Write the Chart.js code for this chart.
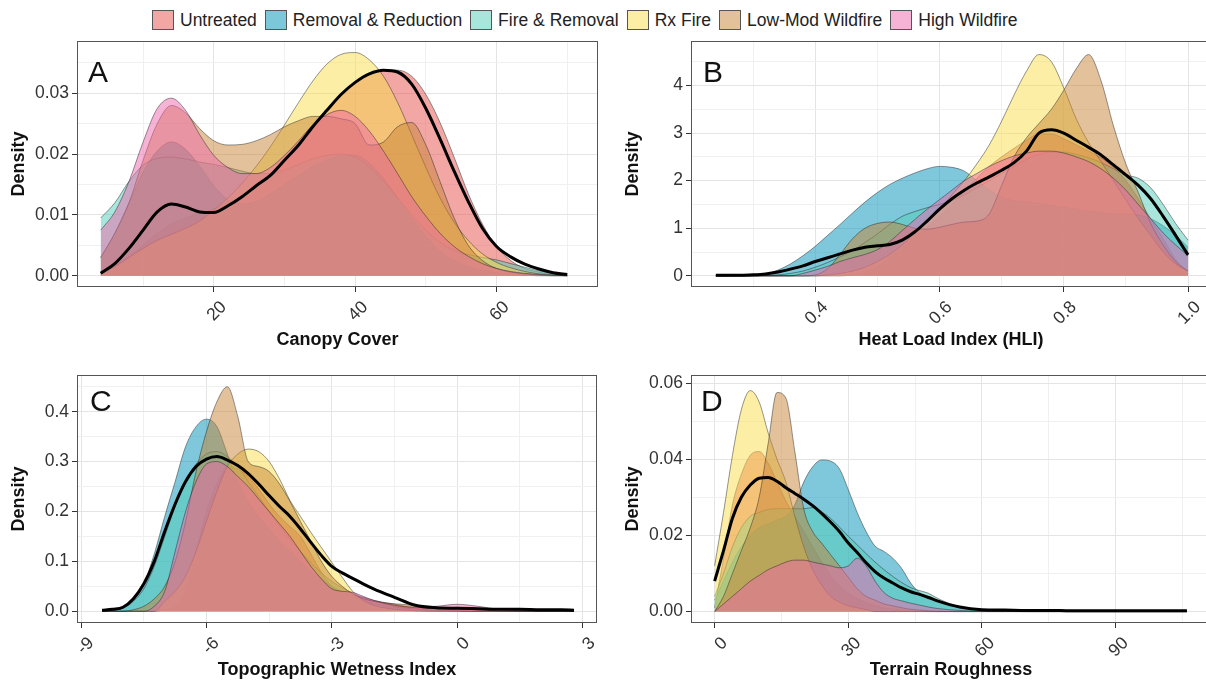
<!DOCTYPE html>
<html>
<head>
<meta charset="utf-8">
<script src="https://cdn.jsdelivr.net/npm/chart.js@4.4.0/dist/chart.umd.min.js"></script>
<style>
html, body { margin: 0; padding: 0; background: #fff; }
body { width: 1206px; height: 683px; overflow: hidden; position: relative; font-family: "Liberation Sans", Arial, sans-serif; }
canvas.panel { position: absolute; }
.tag { position: absolute; font-size: 30px; line-height: 1; color: #111; }
#legend { position: absolute; left: 152px; top: 8px; height: 24px; display: flex; align-items: center; font-size: 17.5px; color: #222; white-space: nowrap; }
.item { display: flex; align-items: center; margin-right: 8px; }
.key { width: 22px; height: 20px; border: 1px solid #555; box-sizing: border-box; margin-right: 6px; }
</style>
</head>
<body>
<div id="legend"></div>
<canvas id="panelA" class="panel" width="606" height="325" style="left:4px;top:30px"></canvas>
<canvas id="panelB" class="panel" width="603" height="325" style="left:618px;top:30px"></canvas>
<canvas id="panelC" class="panel" width="606" height="321" style="left:4px;top:364px"></canvas>
<canvas id="panelD" class="panel" width="603" height="321" style="left:618px;top:364px"></canvas>
<div class="tag" style="left:88px;top:57px">A</div>
<div class="tag" style="left:703px;top:57px">B</div>
<div class="tag" style="left:90px;top:386px">C</div>
<div class="tag" style="left:701px;top:386px">D</div>
<script>
// Gruppen in der Reihenfolge der Legende
const groupNames = ["Untreated", "Removal & Reduction", "Fire & Removal", "Rx Fire", "Low-Mod Wildfire", "High Wildfire"];
const fillColors = ["rgba(229,79,75,0.5)", "rgba(0,143,181,0.5)", "rgba(81,205,185,0.5)",
                    "rgba(249,223,75,0.5)", "rgba(199,131,53,0.5)", "rgba(239,103,171,0.5)"];
const keyColors = ["#f2a7a5", "#7dc7da", "#a8e6dc", "#fcefa5", "#e3c19a", "#f7b3d5"];

// A: Canopy Cover
const canopyX = [4,6,8,10,12,14,16,18,20,22,24,26,28,30,32,34,36,38,40,42,44,46,48,50,52,54,56,58,60,62,64,66,68,70];
const canopyUntreated = [0.0005,0.0018,0.0032,0.005,0.007,0.0085,0.0095,0.0103,0.011,0.012,0.0132,0.0148,0.0168,0.0192,0.0218,0.0245,0.0272,0.0298,0.0318,0.0332,0.0338,0.0338,0.0328,0.0298,0.0252,0.0195,0.0135,0.0085,0.0048,0.0025,0.0012,0.0006,0.0002,0.0001];
const canopyRemoval = [0.003,0.007,0.012,0.017,0.0205,0.022,0.0208,0.018,0.0148,0.0125,0.0118,0.0122,0.0135,0.015,0.0165,0.018,0.019,0.0198,0.0198,0.0185,0.016,0.0128,0.0095,0.0065,0.004,0.0025,0.0015,0.0009,0.0005,0.0003,0.0001,0,0,0];
const canopyFireRemoval = [0.0095,0.012,0.0155,0.0182,0.0193,0.0195,0.0192,0.0187,0.0183,0.0178,0.0172,0.0168,0.0168,0.0174,0.0183,0.0192,0.0198,0.02,0.0195,0.0178,0.0155,0.0128,0.01,0.0075,0.0055,0.0042,0.0035,0.003,0.0026,0.002,0.0014,0.0008,0.0004,0.0002];
const canopyRxFire = [0.0003,0.0015,0.003,0.0045,0.0058,0.0068,0.0078,0.009,0.0108,0.0128,0.0152,0.018,0.0212,0.0248,0.0285,0.032,0.0348,0.0364,0.0367,0.0355,0.0328,0.0285,0.0232,0.0178,0.0128,0.0088,0.0058,0.0036,0.0022,0.0013,0.0007,0.0003,0.0001,0];
const canopyLowMod = [0.003,0.007,0.012,0.019,0.025,0.028,0.0268,0.0242,0.0222,0.0215,0.0216,0.0222,0.0232,0.0245,0.0255,0.0262,0.0262,0.0258,0.025,0.0215,0.022,0.0245,0.0252,0.0215,0.0155,0.0095,0.005,0.0025,0.0012,0.0006,0.0003,0.0001,0,0];
const canopyHigh = [0.0075,0.0105,0.0155,0.022,0.0275,0.0292,0.0272,0.0232,0.0198,0.0178,0.0168,0.0168,0.0178,0.0198,0.0222,0.0248,0.0265,0.0272,0.0262,0.0238,0.0205,0.0168,0.013,0.0098,0.007,0.0048,0.0032,0.002,0.0012,0.0007,0.0004,0.0002,0.0001,0];
const canopyAll = [0.0004,0.002,0.0045,0.0075,0.0105,0.0118,0.0113,0.0105,0.0104,0.0115,0.013,0.0148,0.0165,0.019,0.0215,0.0245,0.0272,0.0298,0.0318,0.0332,0.0338,0.0335,0.0315,0.0275,0.0225,0.0172,0.0122,0.0078,0.0048,0.0031,0.0019,0.0011,0.0005,0.0002];

// B: Heat Load Index
const hliX = [0.24,0.26,0.28,0.30,0.32,0.34,0.36,0.38,0.40,0.42,0.44,0.46,0.48,0.50,0.52,0.54,0.56,0.58,0.60,0.62,0.64,0.66,0.68,0.70,0.72,0.74,0.76,0.78,0.80,0.82,0.84,0.86,0.88,0.90,0.92,0.94,0.96,0.98,1.00];
const hliUntreated = [0,0,0,0,0,0,0,0,0,0,0,0.02,0.08,0.2,0.38,0.58,0.8,1.02,1.25,1.5,1.78,2.05,2.3,2.5,2.68,2.85,2.98,2.98,2.88,2.75,2.62,2.48,2.28,2.0,1.62,1.2,0.78,0.35,0.05];
const hliRemoval = [0,0,0.01,0.02,0.04,0.12,0.25,0.42,0.62,0.85,1.08,1.32,1.55,1.75,1.92,2.05,2.16,2.25,2.3,2.28,2.2,2.0,1.8,1.65,1.58,1.55,1.52,1.48,1.44,1.4,1.36,1.33,1.3,1.3,1.28,1.2,1.05,0.85,0.6];
const hliFireRemoval = [0,0,0,0,0.01,0.02,0.05,0.1,0.18,0.28,0.4,0.53,0.7,0.88,1.08,1.25,1.35,1.43,1.5,1.58,1.7,1.85,2.0,2.15,2.3,2.45,2.55,2.6,2.6,2.55,2.48,2.38,2.25,2.12,2.05,1.85,1.5,1.1,0.75];
const hliRxFire = [0,0,0,0,0,0,0,0,0,0.02,0.05,0.1,0.18,0.3,0.45,0.65,0.9,1.15,1.4,1.7,2.0,2.35,2.75,3.25,3.8,4.3,4.65,4.5,3.95,3.3,2.8,2.4,2.0,1.6,1.2,0.85,0.5,0.25,0.1];
const hliLowMod = [0,0,0,0,0,0,0,0,0.02,0.15,0.45,0.78,1.0,1.1,1.13,1.08,1.0,0.98,1.02,1.08,1.13,1.15,1.3,1.9,2.5,2.9,3.2,3.5,3.9,4.35,4.65,4.1,3.15,2.35,1.75,1.1,0.65,0.3,0.1];
const hliHigh = [0,0,0,0,0,0,0,0.05,0.12,0.2,0.3,0.38,0.45,0.55,0.72,0.95,1.18,1.4,1.6,1.8,2.0,2.15,2.3,2.42,2.52,2.58,2.62,2.62,2.58,2.5,2.4,2.25,2.05,1.8,1.5,1.2,0.9,0.65,0.42];
const hliAll = [0.01,0.01,0.01,0.02,0.04,0.08,0.14,0.21,0.3,0.38,0.46,0.54,0.6,0.63,0.66,0.75,0.92,1.15,1.4,1.62,1.8,1.95,2.08,2.22,2.38,2.62,3.0,3.07,3.0,2.85,2.7,2.54,2.33,2.12,1.9,1.62,1.25,0.85,0.44];

// C: Topographic Wetness Index
const twiX = [-8.5,-8.25,-8,-7.75,-7.5,-7.25,-7,-6.75,-6.5,-6.25,-6,-5.75,-5.5,-5.25,-5,-4.75,-4.5,-4.25,-4,-3.75,-3.5,-3.25,-3,-2.75,-2.5,-2.25,-2,-1.5,-1,-0.5,0,0.5,1,1.5,2,2.5,2.8];
const twiUntreated = [0,0,0,0,0,0,0.003,0.01,0.04,0.12,0.2,0.255,0.29,0.285,0.27,0.245,0.215,0.19,0.17,0.15,0.115,0.078,0.05,0.037,0.033,0.028,0.022,0.014,0.007,0.005,0.008,0.004,0.001,0,0,0,0];
const twiRemoval = [0,0.002,0.008,0.022,0.055,0.115,0.19,0.26,0.33,0.37,0.385,0.37,0.315,0.26,0.22,0.19,0.165,0.14,0.12,0.1,0.08,0.065,0.05,0.04,0.03,0.022,0.016,0.008,0.004,0.002,0.001,0,0,0,0,0,0];
const twiFireRemoval = [0,0.002,0.006,0.02,0.045,0.09,0.15,0.21,0.26,0.295,0.315,0.32,0.31,0.29,0.26,0.23,0.2,0.17,0.145,0.12,0.097,0.077,0.06,0.047,0.036,0.027,0.02,0.01,0.005,0.002,0.001,0,0,0,0,0,0];
const twiRxFire = [0,0,0,0,0,0,0.02,0.04,0.07,0.12,0.18,0.24,0.29,0.315,0.325,0.32,0.3,0.265,0.222,0.19,0.158,0.128,0.098,0.068,0.04,0.022,0.012,0.004,0.001,0,0,0,0,0,0,0,0];
const twiLowMod = [0,0,0,0.003,0.01,0.025,0.05,0.1,0.18,0.28,0.36,0.42,0.45,0.39,0.3,0.29,0.28,0.255,0.22,0.18,0.14,0.1,0.07,0.05,0.035,0.025,0.02,0.015,0.012,0.008,0.006,0.003,0.001,0,0,0,0];
const twiHigh = [0,0,0,0,0,0.01,0.04,0.12,0.2,0.26,0.295,0.3,0.29,0.27,0.25,0.225,0.2,0.175,0.15,0.12,0.09,0.065,0.045,0.04,0.038,0.03,0.022,0.012,0.008,0.01,0.014,0.01,0.004,0.001,0,0,0];
const twiAll = [0.002,0.004,0.008,0.025,0.055,0.1,0.16,0.215,0.26,0.29,0.305,0.31,0.303,0.292,0.276,0.255,0.232,0.21,0.19,0.165,0.138,0.112,0.09,0.077,0.066,0.055,0.045,0.028,0.012,0.007,0.006,0.005,0.004,0.004,0.003,0.003,0.002];

// D: Terrain Roughness
const truX = [0,2,4,6,8,10,12,14,16,18,20,22,24,26,28,30,32,34,36,38,40,42,44,46,48,50,55,60,65,70,75,80,90,100,106];
const truUntreated = [0.001,0.014,0.028,0.036,0.041,0.042,0.039,0.034,0.029,0.025,0.021,0.017,0.013,0.0095,0.0068,0.0048,0.0034,0.0024,0.0016,0.001,0.0007,0.0004,0.0002,0.0001,0,0,0,0,0,0,0,0,0,0,0];
const truRemoval = [0.003,0.008,0.013,0.017,0.02,0.022,0.023,0.024,0.025,0.028,0.034,0.038,0.0398,0.0395,0.0375,0.032,0.026,0.021,0.0172,0.0158,0.014,0.0113,0.0075,0.005,0.0038,0.0028,0.0012,0.0004,0.0001,0,0,0,0,0,0];
const truFireRemoval = [0.004,0.01,0.017,0.022,0.025,0.026,0.0268,0.027,0.027,0.027,0.027,0.0273,0.0262,0.0245,0.0222,0.0198,0.0175,0.0152,0.013,0.011,0.0092,0.0076,0.0063,0.0055,0.0048,0.0035,0.0012,0.0004,0.0001,0,0,0,0,0,0];
const truRxFire = [0.012,0.026,0.041,0.053,0.058,0.055,0.047,0.04,0.034,0.025,0.017,0.011,0.007,0.004,0.0025,0.0015,0.001,0.0005,0,0,0,0,0,0,0,0,0,0,0,0,0,0,0,0,0];
const truLowMod = [0,0.004,0.01,0.016,0.022,0.03,0.044,0.0575,0.056,0.042,0.027,0.021,0.018,0.015,0.012,0.009,0.006,0.004,0.003,0.002,0.0015,0.001,0.0006,0.0004,0.0002,0.0001,0,0,0,0.0003,0.0002,0,0,0,0];
const truHigh = [0,0.002,0.004,0.006,0.008,0.0095,0.011,0.012,0.013,0.0135,0.0135,0.013,0.0125,0.012,0.0115,0.012,0.014,0.012,0.008,0.005,0.0035,0.0028,0.0022,0.0017,0.0012,0.0008,0.0003,0.0001,0,0,0,0,0,0,0];
const truAll = [0.008,0.016,0.0245,0.03,0.0332,0.035,0.0352,0.0342,0.0325,0.031,0.0295,0.0278,0.0258,0.0235,0.021,0.018,0.0155,0.0128,0.0105,0.0088,0.0075,0.0062,0.0052,0.0045,0.0037,0.0028,0.0012,0.0005,0.0004,0.0003,0.0003,0.0002,0.0002,0.0002,0.0002];

// Achsenticks (Haupt- und Nebenlinien)
const canopyTicks = [20, 40, 60], canopyTickLabels = ["20", "40", "60"], canopyMinor = [10, 30, 50, 70];
const hliTicks = [0.4, 0.6, 0.8, 1.0], hliTickLabels = ["0.4", "0.6", "0.8", "1.0"], hliMinor = [0.3, 0.5, 0.7, 0.9];
const twiTicks = [-9, -6, -3, 0, 3], twiTickLabels = ["-9", "-6", "-3", "0", "3"], twiMinor = [-7.5, -4.5, -1.5, 1.5];
const truTicks = [0, 30, 60, 90], truTickLabels = ["0", "30", "60", "90"], truMinor = [15, 45, 75, 105];
const densA = [0, 0.01, 0.02, 0.03], densALabels = ["0.00", "0.01", "0.02", "0.03"], densAMinor = [0.005, 0.015, 0.025, 0.035];
const densB = [0, 1, 2, 3, 4], densBLabels = ["0", "1", "2", "3", "4"], densBMinor = [0.5, 1.5, 2.5, 3.5, 4.5];
const densC = [0, 0.1, 0.2, 0.3, 0.4], densCLabels = ["0.0", "0.1", "0.2", "0.3", "0.4"], densCMinor = [0.05, 0.15, 0.25, 0.35, 0.45];
const densD = [0, 0.02, 0.04, 0.06], densDLabels = ["0.00", "0.02", "0.04", "0.06"], densDMinor = [0.01, 0.03, 0.05];

const FONT = "'Liberation Sans', Arial, sans-serif";

// Legende oben
const legendDiv = document.getElementById("legend");
groupNames.forEach((name, k) => {
    const item = document.createElement("div");
    item.className = "item";
    const key = document.createElement("span");
    key.className = "key";
    key.style.background = keyColors[k];
    const txt = document.createElement("span");
    txt.textContent = name;
    item.appendChild(key);
    item.appendChild(txt);
    legendDiv.appendChild(item);
});

function tickList(major, labels, minor) {
    const list = major.map((v, i) => ({value: v, lbl: labels[i], isMajor: true}))
        .concat(minor.map(v => ({value: v, lbl: "", isMajor: false})));
    return list.sort((a, b) => a.value - b.value);
}

function makeAxis(horizontal, min, max, major, labels, minor, title, size) {
    return {
        type: "linear",
        bounds: "data",
        min: min,
        max: max,
        afterBuildTicks: function (scale) {
            scale.ticks = tickList(major, labels, minor);
        },
        afterFit: function (scale) {
            if (horizontal) scale.height = size; else scale.width = size;
            scale.paddingLeft = 0;
            scale.paddingRight = 0;
            scale.paddingTop = 0;
            scale.paddingBottom = 0;
        },
        ticks: {
            autoSkip: false,
            callback: (v, i, t) => t[i].lbl,
            font: {family: FONT, size: 17.5},
            color: "#333",
            padding: horizontal ? 5 : 3,
            minRotation: horizontal ? 45 : 0,
            maxRotation: horizontal ? 45 : 0,
            labelOffset: horizontal ? 10 : 0
        },
        grid: {
            color: c => (c.tick && c.tick.isMajor) ? "#e4e4e4" : "#f0f0f0",
            tickColor: c => (c.tick && c.tick.isMajor) ? "#333" : "rgba(0,0,0,0)",
            tickLength: 5,
            lineWidth: 1
        },
        border: {display: false},
        title: {
            display: true,
            text: title,
            color: "#111",
            font: {family: FONT, size: 18, weight: "bold"}
        }
    };
}

// Reihenfolge wie ggplot: Untreated unten, High Wildfire oben, Gesamtlinie ganz oben
function buildDatasets(xs, groups, overall) {
    const ds = groups.map((ys, k) => ({
        label: groupNames[k],
        data: xs.map((x, i) => ({x: x, y: ys[i]})),
        fill: "origin",
        backgroundColor: fillColors[k],
        borderColor: "rgba(35,35,35,0.6)",
        borderWidth: 0.8,
        pointRadius: 0,
        cubicInterpolationMode: "monotone",
        order: groups.length - k
    }));
    ds.push({
        label: "All",
        data: xs.map((x, i) => ({x: x, y: overall[i]})),
        fill: false,
        borderColor: "#000",
        borderWidth: 3,
        pointRadius: 0,
        cubicInterpolationMode: "monotone",
        order: 0
    });
    return ds;
}

// Rahmen um das Panel wie bei theme_bw
const framePlugin = {
    id: "frame",
    afterDraw(chart) {
        const {ctx, chartArea} = chart;
        ctx.save();
        ctx.strokeStyle = "#555";
        ctx.lineWidth = 1;
        ctx.strokeRect(chartArea.left + 0.5, chartArea.top + 0.5, chartArea.right - chartArea.left - 1, chartArea.bottom - chartArea.top - 1);
        ctx.restore();
    }
};

function plotPanel(id, datasets, xAxis, yAxis, padRight) {
    return new Chart(document.getElementById(id), {
        type: "line",
        data: {datasets: datasets},
        options: {
            responsive: false,
            animation: false,
            devicePixelRatio: 1,
            layout: {padding: {left: 0, top: 11, right: padRight, bottom: 0}},
            plugins: {legend: {display: false}, tooltip: {enabled: false}},
            scales: {x: xAxis, y: yAxis}
        },
        plugins: [framePlugin]
    });
}

plotPanel("panelA",
    buildDatasets(canopyX, [canopyUntreated, canopyRemoval, canopyFireRemoval, canopyRxFire, canopyLowMod, canopyHigh], canopyAll),
    makeAxis(true, 0.65, 74.35, canopyTicks, canopyTickLabels, canopyMinor, "Canopy Cover", 68),
    makeAxis(false, -0.00185, 0.0386, densA, densALabels, densAMinor, "Density", 73), 12);

plotPanel("panelB",
    buildDatasets(hliX, [hliUntreated, hliRemoval, hliFireRemoval, hliRxFire, hliLowMod, hliHigh], hliAll),
    makeAxis(true, 0.2, 1.037, hliTicks, hliTickLabels, hliMinor, "Heat Load Index (HLI)", 68),
    makeAxis(false, -0.235, 4.935, densB, densBLabels, densBMinor, "Density", 73), 10);

plotPanel("panelC",
    buildDatasets(twiX, [twiUntreated, twiRemoval, twiFireRemoval, twiRxFire, twiLowMod, twiHigh], twiAll),
    makeAxis(true, -9.1, 3.35, twiTicks, twiTickLabels, twiMinor, "Topographic Wetness Index", 62),
    makeAxis(false, -0.0235, 0.4735, densC, densCLabels, densCMinor, "Density", 73), 13);

plotPanel("panelD",
    buildDatasets(truX, [truUntreated, truRemoval, truFireRemoval, truRxFire, truLowMod, truHigh], truAll),
    makeAxis(true, -5.3, 111.4, truTicks, truTickLabels, truMinor, "Terrain Roughness", 62),
    makeAxis(false, -0.003, 0.0621, densD, densDLabels, densDMinor, "Density", 73), 10);
</script>
</body>
</html>
